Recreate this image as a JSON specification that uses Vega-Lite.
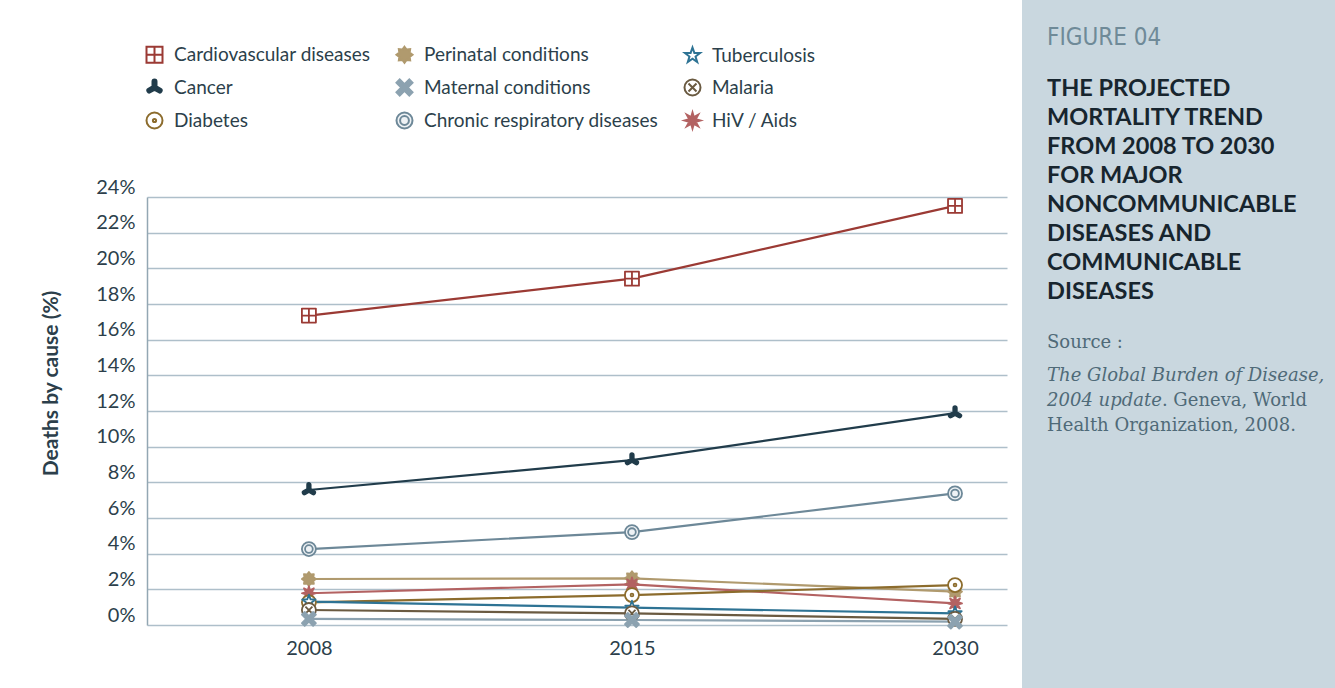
{
  "$schema": "https://vega.github.io/schema/vega-lite/v6.json",
  "background": "white",
  "padding": {"left": 40, "top": 0, "right": 0, "bottom": 0},
  "spacing": 15,
  "hconcat": [
    {
      "width": 860,
      "height": 688,
      "data": {"values": [
        {"cause": "Cardiovascular diseases", "year": "2008", "value": 17.35},
        {"cause": "Cardiovascular diseases", "year": "2015", "value": 19.42},
        {"cause": "Cardiovascular diseases", "year": "2030", "value": 23.5},
        {"cause": "Cancer", "year": "2008", "value": 7.57},
        {"cause": "Cancer", "year": "2015", "value": 9.25},
        {"cause": "Cancer", "year": "2030", "value": 11.88},
        {"cause": "Chronic respiratory diseases", "year": "2008", "value": 4.26},
        {"cause": "Chronic respiratory diseases", "year": "2015", "value": 5.21},
        {"cause": "Chronic respiratory diseases", "year": "2030", "value": 7.38},
        {"cause": "Perinatal conditions", "year": "2008", "value": 2.58},
        {"cause": "Perinatal conditions", "year": "2015", "value": 2.62},
        {"cause": "Perinatal conditions", "year": "2030", "value": 1.87},
        {"cause": "HiV / Aids", "year": "2008", "value": 1.78},
        {"cause": "HiV / Aids", "year": "2015", "value": 2.28},
        {"cause": "HiV / Aids", "year": "2030", "value": 1.21},
        {"cause": "Diabetes", "year": "2008", "value": 1.27},
        {"cause": "Diabetes", "year": "2015", "value": 1.68},
        {"cause": "Diabetes", "year": "2030", "value": 2.24},
        {"cause": "Tuberculosis", "year": "2008", "value": 1.31},
        {"cause": "Tuberculosis", "year": "2015", "value": 0.97},
        {"cause": "Tuberculosis", "year": "2030", "value": 0.65},
        {"cause": "Malaria", "year": "2008", "value": 0.84},
        {"cause": "Malaria", "year": "2015", "value": 0.65},
        {"cause": "Malaria", "year": "2030", "value": 0.34},
        {"cause": "Maternal conditions", "year": "2008", "value": 0.34},
        {"cause": "Maternal conditions", "year": "2015", "value": 0.28},
        {"cause": "Maternal conditions", "year": "2030", "value": 0.19}
      ]},
      "encoding": {
        "x": {"field": "year", "type": "ordinal",
              "scale": {"type": "point", "padding": 0.331, "align": 0.757},
              "axis": {"title": null, "labelAngle": 0, "labelFontSize": 20, "labelColor": "#2c3f4b", "labelPadding": 13, "offset": -63, "ticks": false, "domain": false, "grid": false}},
        "y": {"field": "value", "type": "quantitative",
              "scale": {"domain": [0, 24], "nice": false, "range": [625, 197]},
              "axis": {"values": [0, 2, 4, 6, 8, 10, 12, 14, 16, 18, 20, 22, 24],
                       "labelExpr": "datum.value + '%'",
                       "title": "Deaths by cause (%)", "titleFontSize": 21, "titleFontWeight": "bold", "titleColor": "#2c3f4b",
                       "titlePadding": 34, "titleY": 383,
                       "labelBaseline": "bottom", "labelPadding": 12, "labelFontSize": 20, "labelColor": "#2c3f4b",
                       "ticks": false, "domain": true, "domainColor": "#93a7b3", "domainWidth": 1.5,
                       "grid": true, "gridColor": "#aebfca", "gridWidth": 1.5}},
        "stroke": {"field": "cause", "type": "nominal", "title": null,
                   "scale": {"domain": ["Cardiovascular diseases", "Cancer", "Diabetes", "Perinatal conditions", "Maternal conditions", "Chronic respiratory diseases", "Tuberculosis", "Malaria", "HiV / Aids"],
                             "range": ["#9b3a34", "#213c4b", "#8c6c2d", "#b09a6e", "#8ca2b0", "#6d8898", "#2e7394", "#6a5a41", "#b36262"]}}
      },
      "layer": [
        {"mark": {"type": "line", "strokeWidth": 2.2}},
        {"mark": {"type": "point", "size": 196, "strokeWidth": 1.8, "opacity": 1, "filled": true, "strokeJoin": "round"},
         "encoding": {
           "fill": {"field": "cause", "type": "nominal", "title": null,
                    "scale": {"domain": ["Cardiovascular diseases", "Cancer", "Diabetes", "Perinatal conditions", "Maternal conditions", "Chronic respiratory diseases", "Tuberculosis", "Malaria", "HiV / Aids"],
                              "range": ["#ffffff", "#213c4b", "#ffffff", "#b09a6e", "#8ca2b0", "#eef2f5", "#ffffff", "#ffffff", "#b36262"]}},
           "shape": {"field": "cause", "type": "nominal", "title": null,
                     "scale": {"domain": ["Cardiovascular diseases", "Cancer", "Diabetes", "Perinatal conditions", "Maternal conditions", "Chronic respiratory diseases", "Tuberculosis", "Malaria", "HiV / Aids"],
                               "range": [
                                 "M-1,-1H1V1H-1Z M0,-1V1 M-1,0H1",
                                 "M-0.25,-0.75A0.25,0.25,0,0,1,0.25,-0.75L0.25,-0.144L0.7745,0.1585A0.25,0.25,0,0,1,0.5245,0.5915L0,0.289L-0.5245,0.5915A0.25,0.25,0,0,1,-0.7745,0.1585L-0.25,-0.144Z",
                                 "M-1,0A1,1,0,1,1,1,0A1,1,0,1,1,-1,0Z M-0.2,0A0.2,0.2,0,1,1,0.2,0A0.2,0.2,0,1,1,-0.2,0Z",
                                 "M0,-1L0.268,-0.647L0.707,-0.707L0.647,-0.268L1,0L0.647,0.268L0.707,0.707L0.268,0.647L0,1L-0.268,0.647L-0.707,0.707L-0.647,0.268L-1,0L-0.647,-0.268L-0.707,-0.707L-0.268,-0.647Z",
                                 "M-1,-0.6L-0.6,-1L0,-0.4L0.6,-1L1,-0.6L0.4,0L1,0.6L0.6,1L0,0.4L-0.6,1L-1,0.6L-0.4,0Z",
                                 "M-1,0A1,1,0,1,1,1,0A1,1,0,1,1,-1,0Z M-0.55,0A0.55,0.55,0,1,1,0.55,0A0.55,0.55,0,1,1,-0.55,0Z",
                                 "M0,-1L0.235,-0.324L0.951,-0.309L0.38,0.124L0.588,0.809L0,0.4L-0.588,0.809L-0.38,0.124L-0.951,-0.309L-0.235,-0.324Z",
                                 "M-1,0A1,1,0,1,1,1,0A1,1,0,1,1,-1,0Z M-0.5,-0.5L0.5,0.5 M-0.5,0.5L0.5,-0.5",
                                 "M0,-1L0.172,-0.416L0.707,-0.707L0.416,-0.172L1,0L0.416,0.172L0.707,0.707L0.172,0.416L0,1L-0.172,0.416L-0.707,0.707L-0.416,0.172L-1,0L-0.416,-0.172L-0.707,-0.707L-0.172,-0.416Z"
                               ]}}
         }}
      ]
    },
    {
      "width": 313,
      "height": 688,
      "view": {"fill": "#c9d7df", "stroke": null},
      "data": {"values": [
        {"kind": "figure", "text": "FIGURE 04"},
        {"kind": "heading", "text": ["THE PROJECTED", "MORTALITY TREND", "FROM 2008 TO 2030", "FOR MAJOR", "NONCOMMUNICABLE", "DISEASES AND", "COMMUNICABLE", "DISEASES"]},
        {"kind": "source", "text": "Source :"},
        {"kind": "work", "text": ["The Global Burden of Disease,", "2004 update"]},
        {"kind": "publisher1", "text": ". Geneva, World"},
        {"kind": "publisher2", "text": "Health Organization, 2008."}
      ]},
      "encoding": {
        "x": {"datum": 0.08, "type": "quantitative", "scale": {"domain": [0, 1]}, "axis": null},
        "text": {"field": "text"}
      },
      "layer": [
        {"transform": [{"filter": "datum.kind === 'figure'"}],
         "mark": {"type": "text", "align": "left", "baseline": "alphabetic", "font": "DejaVu Sans Condensed", "fontSize": 24, "color": "#6f8a98"},
         "encoding": {"y": {"datum": 0.0654, "type": "quantitative", "scale": {"domain": [0, 1], "reverse": true}, "axis": null}}},
        {"transform": [{"filter": "datum.kind === 'heading'"}],
         "mark": {"type": "text", "align": "left", "baseline": "alphabetic", "font": "Lato", "fontWeight": "bold", "fontSize": 23.5, "lineHeight": 29, "color": "#17252e"},
         "encoding": {"y": {"datum": 0.1395, "type": "quantitative"}}},
        {"transform": [{"filter": "datum.kind === 'source'"}],
         "mark": {"type": "text", "align": "left", "baseline": "alphabetic", "font": "DejaVu Serif", "fontSize": 18, "color": "#4f6a78"},
         "encoding": {"y": {"datum": 0.5058, "type": "quantitative"}}},
        {"transform": [{"filter": "datum.kind === 'work'"}],
         "mark": {"type": "text", "align": "left", "baseline": "alphabetic", "font": "DejaVu Serif", "fontStyle": "italic", "fontSize": 18, "lineHeight": 25, "color": "#4f6a78"},
         "encoding": {"y": {"datum": 0.5538, "type": "quantitative"}}},
        {"transform": [{"filter": "datum.kind === 'publisher1'"}],
         "mark": {"type": "text", "align": "left", "baseline": "alphabetic", "font": "DejaVu Serif", "fontSize": 18, "color": "#4f6a78"},
         "encoding": {"x": {"datum": 0.447, "type": "quantitative"}, "y": {"datum": 0.5901, "type": "quantitative"}}},
        {"transform": [{"filter": "datum.kind === 'publisher2'"}],
         "mark": {"type": "text", "align": "left", "baseline": "alphabetic", "font": "DejaVu Serif", "fontSize": 18, "color": "#4f6a78"},
         "encoding": {"y": {"datum": 0.6265, "type": "quantitative"}}}
      ]
    }
  ],
  "config": {
    "view": {"stroke": null},
    "font": "Lato",
    "legend": {"orient": "none", "legendX": -2, "legendY": 45, "columns": 3, "columnPadding": 21, "rowPadding": 8,
               "symbolSize": 256, "symbolStrokeWidth": 2, "labelFont": "Lato", "labelFontSize": 19, "labelColor": "#2c3f4b",
               "labelOffset": 10, "padding": 0, "labelLimit": 400}
  }
}
